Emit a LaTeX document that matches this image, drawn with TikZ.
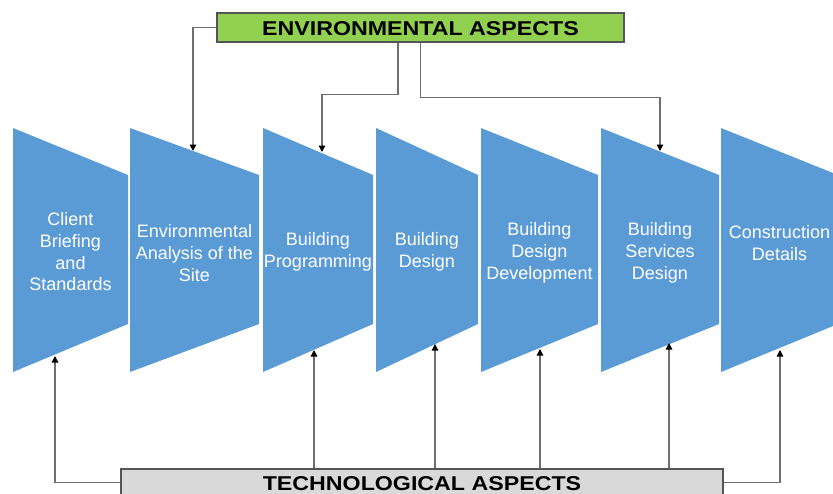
\documentclass[tikz,border=0pt]{standalone}
\usepackage{fontspec}
\setmainfont{Liberation Sans}
\newfontfamily\headfont[FakeStretch=1.16]{Liberation Sans}
\usetikzlibrary{arrows.meta}

\definecolor{stageblue}{RGB}{91,155,213}
\definecolor{envgreen}{RGB}{146,208,80}
\definecolor{techgray}{RGB}{217,217,217}
\definecolor{linkgray}{RGB}{110,110,110}
\definecolor{boxline}{RGB}{85,85,85}

\tikzset{
  stage/.style={fill=stageblue},
  stagelabel/.style={text=white, align=center, inner sep=0pt,
    font=\fontsize{18}{21.7}\selectfont},
  aspect/.style={draw=boxline, line width=1.5pt, minimum height=29pt,
    inner sep=0pt, text height=16pt, font=\headfont\bfseries\fontsize{20}{24}\selectfont},
  link/.style={draw=linkgray, line width=1.3pt,
    -{Triangle[length=6.5pt,width=6.5pt,color=black]}},
}

\begin{document}
\begin{tikzpicture}[x=1pt,y=-1pt]
    \useasboundingbox (0,0) rectangle (833,493);

    % the seven stages
    \foreach \xl/\xr in {13/128,130/259,263/373,376/478,481/598,601/719,721/838}
        \fill[stage] (\xl,128) -- (\xr,175) -- (\xr,324) -- (\xl,372) -- cycle;

    \node[stagelabel] (brief)  at (70.5,252)  {Client\\Briefing\\and\\Standards};
    \node[stagelabel] (site)   at (194.5,253) {Environmental\\Analysis of the\\Site};
    \node[stagelabel] (prog)   at (318,252)   {Building\\Programming};
    \node[stagelabel] (design) at (427,252)   {Building\\Design};
    \node[stagelabel] (devel)  at (539.5,253) {Building\\Design\\Development};
    \node[stagelabel] (serv)   at (660,253)   {Building\\Services\\Design};
    \node[stagelabel] (constr) at (779.5,243) {Construction\\Details};

    % the two aspects
    \node[aspect, fill=envgreen, minimum width=407pt] (env)  at (420.5,27.5) {ENVIRONMENTAL ASPECTS};
    \node[aspect, fill=techgray, minimum width=602pt, minimum height=27pt] (tech) at (422,482.5) {TECHNOLOGICAL ASPECTS};

    % where the arrows meet the stages
    \coordinate (siteTop)   at (193,151);
    \coordinate (progTop)   at (322,152);
    \coordinate (servTop)   at (660,151);
    \coordinate (briefBot)  at (55,356);
    \coordinate (progBot)   at (314,350);
    \coordinate (designBot) at (435,344);
    \coordinate (develBot)  at (540,349);
    \coordinate (servBot)   at (669,343);
    \coordinate (constrBot) at (780,350);

    \draw[link] (env.west) -| (siteTop);
    \draw[link] ([xshift=-22.5pt]env.south) -- ++(0,52) -| (progTop);
    \draw[link] (env.south) -- ++(0,55) -| (servTop);

    \draw[link] (tech.west) -| (briefBot);
    \draw[link] (tech.north -| progBot) -- (progBot);
    \draw[link] (tech.north -| designBot) -- (designBot);
    \draw[link] (tech.north -| develBot) -- (develBot);
    \draw[link] (tech.north -| servBot) -- (servBot);
    \draw[link] (tech.east) -| (constrBot);
\end{tikzpicture}
\end{document}
